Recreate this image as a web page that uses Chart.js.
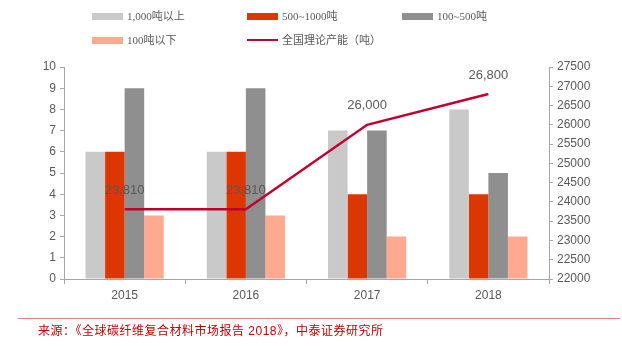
<!DOCTYPE html>
<html>
<head>
<meta charset="utf-8">
<script src="https://cdn.jsdelivr.net/npm/chart.js@4"></script>
<style>
body { margin: 0; background: #fff; }
#wrap { position: relative; width: 622px; height: 346px; }
#myChart { position: absolute; left: 0; top: 0; }
.lg { position: absolute; font: 11px "Liberation Serif", "Noto Sans CJK SC", serif; color: #595959; white-space: nowrap; line-height: 14px; }
.lg i { position: absolute; left: 0; top: 4px; width: 31px; height: 7px; }
.lg span { position: absolute; left: 35px; top: 0; }
#rule { position: absolute; left: 18px; top: 318px; width: 602px; height: 1px; background: #e98080; }
#src { position: absolute; left: 38px; top: 321px; font: 12px "Liberation Sans", "Noto Sans CJK SC", sans-serif; color: #c00000; white-space: nowrap; letter-spacing: 0.5px; }
</style>
</head>
<body>
<div id="wrap">
<canvas id="myChart" width="622" height="346"></canvas>
<div id="legend"></div>
<div id="rule"></div>
<div id="src">来源：《全球碳纤维复合材料市场报告 2018》，中泰证券研究所</div>
</div>
<script>
const years = ["2015", "2016", "2017", "2018"];
const over1000 = [6, 6, 7, 8];
const from500to1000 = [6, 6, 4, 4];
const from100to500 = [9, 9, 7, 5];
const under100 = [3, 3, 2, 2];
const capacity = [23810, 23810, 26000, 26800];

const names = ["1,000吨以上", "500~1000吨", "100~500吨", "100吨以下", "全国理论产能（吨）"];
const colors = ["#c9c9c9", "#dc3700", "#8f8f8f", "#ffaa90", "#c0002f"];

// legend in html, two rows of three columns
const legendPos = [[92, 9], [247, 9], [402, 9], [92, 33], [247, 33]];
let html = "";
for (let i = 0; i < names.length; i++) {
    let sw = i == 4
        ? '<i style="background:' + colors[i] + ';height:2px;top:6px"></i>'
        : '<i style="background:' + colors[i] + '"></i>';
    html += '<div class="lg" style="left:' + legendPos[i][0] + 'px;top:' + legendPos[i][1] + 'px">' + sw + '<span>' + names[i] + '</span></div>';
}
document.getElementById("legend").innerHTML = html;

const lineLabels = {
    id: "lineLabels",
    afterDatasetsDraw(chart) {
        const ctx = chart.ctx;
        const meta = chart.getDatasetMeta(0);
        ctx.save();
        ctx.font = "13px 'Liberation Sans', sans-serif";
        ctx.fillStyle = "#595959";
        ctx.textAlign = "center";
        ctx.textBaseline = "middle";
        meta.data.forEach(function(p, i) {
            ctx.fillText(capacity[i].toLocaleString("en-US"), p.x, p.y - 19);
        });
        ctx.restore();
    }
};

const axisColor = "#a6a6a6";
const tickFont = { family: "Liberation Sans", size: 12 };

new Chart("myChart", {
    data: {
        labels: years,
        datasets: [
            { type: "line", label: names[4], data: capacity, yAxisID: "y2", borderColor: colors[4], borderWidth: 2.5, pointRadius: 0, tension: 0, order: 0 },
            { type: "bar", label: names[0], data: over1000, backgroundColor: colors[0], yAxisID: "y", order: 1 },
            { type: "bar", label: names[1], data: from500to1000, backgroundColor: colors[1], yAxisID: "y", order: 1 },
            { type: "bar", label: names[2], data: from100to500, backgroundColor: colors[2], yAxisID: "y", order: 1 },
            { type: "bar", label: names[3], data: under100, backgroundColor: colors[3], yAxisID: "y", order: 1 }
        ]
    },
    options: {
        responsive: false,
        animation: false,
        layout: { padding: { top: 67, left: 0, right: 0, bottom: 0 } },
        datasets: { bar: { categoryPercentage: 0.645, barPercentage: 1 } },
        plugins: { legend: { display: false }, tooltip: { enabled: false } },
        scales: {
            x: {
                offset: true,
                grid: { offset: true, drawOnChartArea: false, color: axisColor, tickLength: 5 },
                border: { color: axisColor },
                ticks: { color: "#595959", font: tickFont, padding: 4 },
                afterFit: function(s) { s.height = 67; }
            },
            y: {
                position: "left",
                min: 0, max: 10,
                ticks: { stepSize: 1, color: "#595959", font: tickFont, padding: 4 },
                grid: { drawOnChartArea: false, color: axisColor, tickLength: 4 },
                border: { color: axisColor },
                afterFit: function(s) { s.width = 64; }
            },
            y2: {
                position: "right",
                min: 22000, max: 27500,
                ticks: { stepSize: 500, color: "#595959", font: tickFont, padding: 4, callback: function(v) { return String(v); } },
                grid: { drawOnChartArea: false, color: axisColor, tickLength: 4 },
                border: { color: axisColor },
                afterFit: function(s) { s.width = 73; }
            }
        }
    },
    plugins: [lineLabels]
});
</script>
</body>
</html>
